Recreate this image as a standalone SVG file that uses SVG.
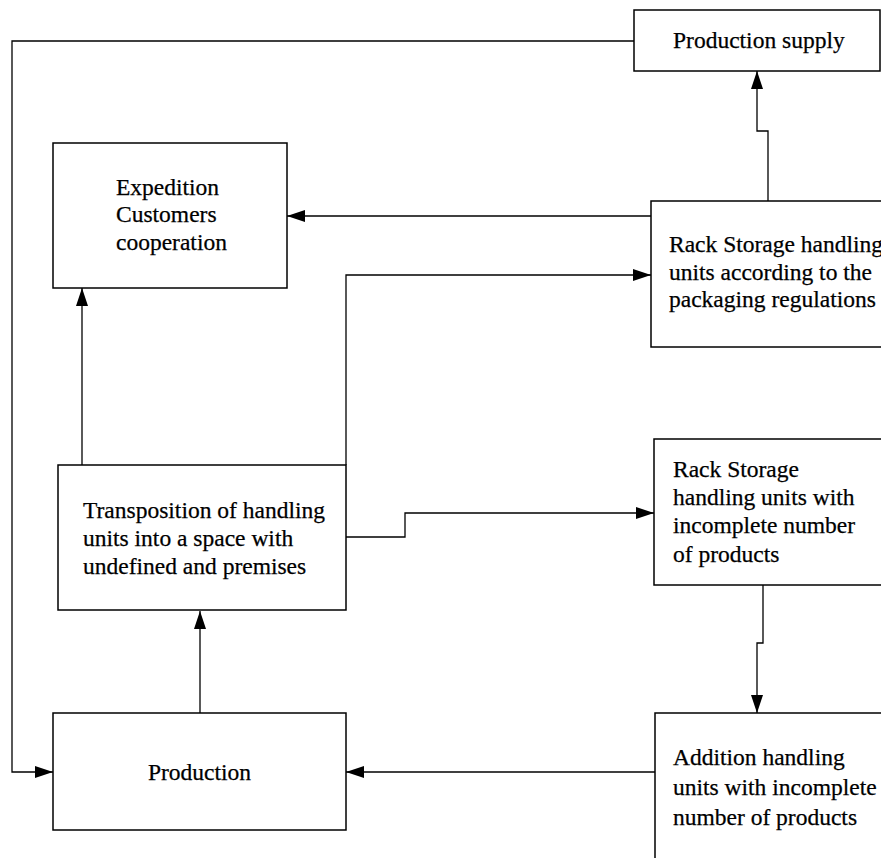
<svg xmlns="http://www.w3.org/2000/svg" width="881" height="858" viewBox="0 0 881 858">
<style>
.box{fill:#fff;stroke:#000;stroke-width:1.5}
.t{font-family:"Liberation Serif","Times New Roman",serif;font-size:23.5px;fill:#000;stroke:#000;stroke-width:0.25}
.c{fill:none;stroke:#000;stroke-width:1.3}
</style>
<defs>
<marker id="ah" markerUnits="userSpaceOnUse" markerWidth="20" markerHeight="14" refX="18" refY="6" orient="auto">
<path d="M0,0 L18,6 L0,12 Z" fill="#000"/>
</marker>
</defs>
<rect width="881" height="858" fill="#fff"/>
<g id="connectors">
<path class="c" d="M634,41 H12 V772 H53" marker-end="url(#ah)"/>
<path class="c" d="M768,201 V131 H757 V71" marker-end="url(#ah)"/>
<path class="c" d="M651,216 H287" marker-end="url(#ah)"/>
<path class="c" d="M346,465 V275 H651" marker-end="url(#ah)"/>
<path class="c" d="M82,465 V288" marker-end="url(#ah)"/>
<path class="c" d="M346,537 H405 V513 H654" marker-end="url(#ah)"/>
<path class="c" d="M763,585 V643 H757 V713" marker-end="url(#ah)"/>
<path class="c" d="M655,772 H346" marker-end="url(#ah)"/>
<path class="c" d="M200,713 V611" marker-end="url(#ah)"/>
</g>
<g id="production-supply">
<rect class="box" x="634" y="10" width="246" height="61"/>
<text class="t" x="673" y="48">Production supply</text>
</g>
<g id="expedition">
<rect class="box" x="53" y="143" width="234" height="145"/>
<text class="t" x="116" y="195">Expedition</text>
<text class="t" x="116" y="222">Customers</text>
<text class="t" x="116" y="250">cooperation</text>
</g>
<g id="rack-storage-1">
<rect class="box" x="651" y="201" width="260" height="146"/>
<text class="t" x="669" y="252">Rack Storage handling</text>
<text class="t" x="669" y="280">units according to the</text>
<text class="t" x="669" y="307">packaging regulations</text>
</g>
<g id="transposition">
<rect class="box" x="58" y="465" width="288" height="145"/>
<text class="t" x="83" y="518">Transposition of handling</text>
<text class="t" x="83" y="546">units into a space with</text>
<text class="t" x="83" y="574">undefined and premises</text>
</g>
<g id="rack-storage-2">
<rect class="box" x="654" y="439" width="260" height="146"/>
<text class="t" x="673" y="477">Rack Storage</text>
<text class="t" x="673" y="505">handling units with</text>
<text class="t" x="673" y="533">incomplete number</text>
<text class="t" x="673" y="562">of products</text>
</g>
<g id="production">
<rect class="box" x="53" y="713" width="293" height="117"/>
<text class="t" x="199.5" y="780" text-anchor="middle">Production</text>
</g>
<g id="addition">
<rect class="box" x="655" y="713" width="260" height="170"/>
<text class="t" x="673" y="765">Addition handling</text>
<text class="t" x="673" y="795">units with incomplete</text>
<text class="t" x="673" y="825">number of products</text>
</g>
</svg>
